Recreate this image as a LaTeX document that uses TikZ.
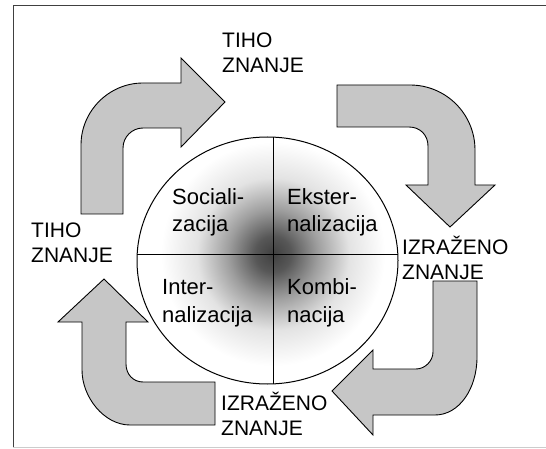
\documentclass[tikz,border=0pt]{standalone}
\usepackage{fontspec}
\setsansfont{Liberation Sans}
\usepackage{tikz}
\pgfdeclareradialshading{seci}{\pgfpoint{0bp}{0bp}}{%
  color(0bp)=(black!75); color(4bp)=(black!66); color(10bp)=(black!38);
  color(17bp)=(black!11); color(25bp)=(white); color(50bp)=(white)}
\tikzset{%
  % Specifications for style of nodes:
      label/.style = {anchor=base west, inner sep=0pt, align=left,
                      font=\sffamily\fontsize{21}{25}\selectfont},
   quadtext/.style = {label, font=\sffamily\fontsize{22}{28}\selectfont},
  % Specifications for the bent block arrows and the frame:
   blockarr/.style = {draw=black, fill=gray!45, line width=0.9pt},
  frameline/.style = {draw=black!75, line width=1pt},
}

\begin{document}
\begin{tikzpicture}[x=1pt, y=-1pt]
  \useasboundingbox (0,0) rectangle (546,449);
  % Frame
  \draw[frameline] (546,6) -- (13,6) -- (13,447);
  \draw[black!20, line width=0.6pt] (13,447) -- (546,447);
  % Disc with shading and dividers
  \begin{scope}
    \clip (267.5,260.5) ellipse [x radius=130.5, y radius=123.5];
    \shade[shading=seci] (273,254) circle [radius=112];
    \draw[line width=0.8pt] (273,120) -- (273,400);
    \draw[line width=0.8pt] (120,254) -- (420,254);
  \end{scope}
  \draw[line width=1pt] (267.5,260.5) ellipse [x radius=130.5, y radius=123.5];
  % Bent arrows (top left, top right, bottom right, bottom left)
  \draw[blockarr] (81,214) -- (81,145) .. controls (81,111) and (109,83) .. (143,83)
    -- (181,83) -- (181,58) -- (225,102) -- (181,147) -- (181,128) -- (143,128)
    .. controls (132,128) and (123,137) .. (123,148) -- (123,214) -- cycle;
  \draw[blockarr] (337,85) -- (410,85) .. controls (446,85) and (475,114) .. (475,150)
    -- (475,185) -- (495,185) -- (450,227) -- (406,185) -- (428,185) -- (428,146)
    .. controls (428,135) and (420,127) .. (409,127) -- (337,127) -- cycle;
  \draw[blockarr] (433,281) -- (477,281) -- (477,357) .. controls (477,389) and (459,415) .. (435,415)
    -- (373,415) -- (373,435) -- (332,391) -- (373,350) -- (373,369) -- (416,369)
    .. controls (425,369) and (433,361) .. (433,352) -- cycle;
  \draw[blockarr] (215,425) -- (130,425) .. controls (104,425) and (82,397) .. (82,370)
    -- (82,322) -- (58,322) -- (104,279) -- (148,322) -- (126,322) -- (126,364)
    .. controls (126,374) and (133,382) .. (143,382) -- (215,382) -- cycle;
  % Specification of text nodes (anchored at the baseline of the last line)
  \node (tihoTop)   [label]    at (222,73)  {TIHO\\ZNANJE};
  \node (tihoLeft)  [label]    at (31,262)  {TIHO\\ZNANJE};
  \node (izrRight)  [label]    at (402,279) {IZRAŽENO\\ZNANJE};
  \node (izrBottom) [label]    at (221,435) {IZRAŽENO\\ZNANJE};
  \node (soc)       [quadtext] at (172,232) {Sociali-\\zacija};
  \node (ext)       [quadtext] at (287,232) {Ekster-\\nalizacija};
  \node (int)       [quadtext] at (162,322) {Inter-\\nalizacija};
  \node (komb)      [quadtext] at (287,322) {Kombi-\\nacija};
\end{tikzpicture}
\end{document}
